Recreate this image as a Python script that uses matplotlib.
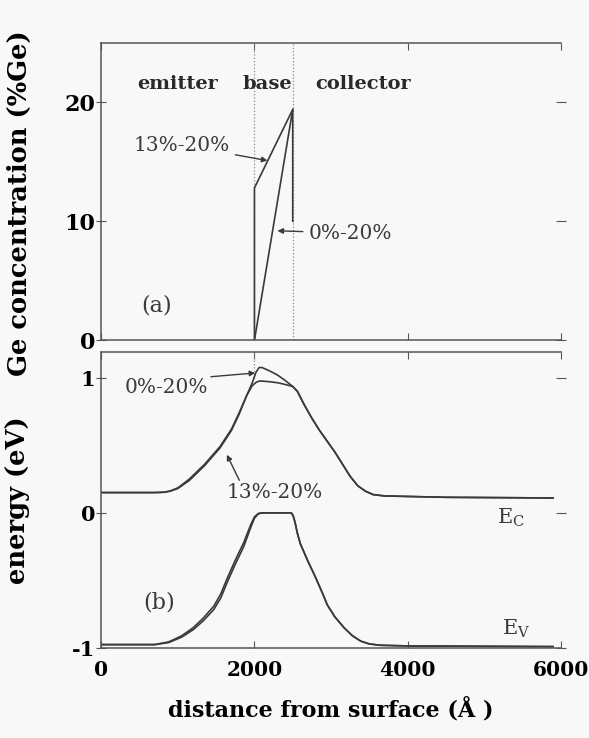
import matplotlib
matplotlib.use("Agg")
import matplotlib.pyplot as plt

plt.rcParams['font.family'] = ['DejaVu Serif']
plt.rcParams['mathtext.fontset'] = 'dejavuserif'

# (a) Ge profiles, distance in Angstrom, %Ge
base_edges = [2000, 2500]
ge_x_13 = [2000, 2000, 2500, 2500]
ge_y_13 = [0, 12.8, 19.4, 10]
ge_x_0 = [2000, 2500]
ge_y_0 = [0, 19.4]

# (b) band edges, eV
ec_x = [0, 700, 820, 900, 1000, 1150, 1350, 1550, 1700, 1800, 1900, 1970, 2020, 2060, 2100, 2200,
        2300, 2400, 2500, 2560, 2650, 2750, 2850, 2950, 3050, 3150, 3250, 3350, 3450, 3550, 3700, 4500, 5900]
ec_13 = [0.15, 0.15, 0.153, 0.162, 0.185, 0.25, 0.36, 0.49, 0.62, 0.74, 0.87, 0.94, 0.965, 0.975, 0.975, 0.97,
         0.963, 0.95, 0.935, 0.90, 0.80, 0.70, 0.61, 0.53, 0.45, 0.36, 0.27, 0.20, 0.16, 0.135, 0.125, 0.115, 0.11]
ec_0 = [0.15, 0.15, 0.152, 0.16, 0.18, 0.24, 0.35, 0.48, 0.61, 0.73, 0.87, 0.96, 1.04, 1.075, 1.075, 1.05,
        1.02, 0.98, 0.935, 0.90, 0.80, 0.70, 0.61, 0.53, 0.45, 0.36, 0.27, 0.20, 0.16, 0.135, 0.125, 0.115, 0.11]

ev_x = [0, 700, 880, 1050, 1200, 1330, 1470, 1560, 1640, 1750, 1860, 1950, 2000, 2050, 2100, 2480,
        2505, 2530, 2560, 2600, 2700, 2800, 2900, 2950, 3050, 3170, 3280, 3390, 3500, 3640, 4000, 5900]
ev_13 = [-0.975, -0.975, -0.955, -0.91, -0.85, -0.78, -0.69, -0.60, -0.49, -0.35, -0.22, -0.09, -0.03, -0.005, 0.0, 0.0,
         -0.02, -0.07, -0.15, -0.23, -0.36, -0.48, -0.61, -0.68, -0.77, -0.85, -0.91, -0.95, -0.97, -0.98, -0.985, -0.99]
ev_0 = [-0.975, -0.975, -0.96, -0.92, -0.865, -0.80, -0.715, -0.63, -0.52, -0.38, -0.25, -0.11, -0.04, -0.008, 0.0, 0.0,
        -0.02, -0.07, -0.15, -0.23, -0.36, -0.48, -0.61, -0.68, -0.77, -0.85, -0.91, -0.95, -0.97, -0.98, -0.985, -0.99]

ink = '#3a3a3a'
bg = '#f8f8f8'

fig = plt.figure(figsize=(5.89, 7.38), dpi=100, facecolor=bg)
ax1 = fig.add_axes([0.172, 0.539, 0.78, 0.403], facecolor=bg)
ax2 = fig.add_axes([0.172, 0.122, 0.78, 0.401], facecolor=bg)

for ax in (ax1, ax2):
    ax.set_xlim(0, 6000)
    ax.spines['right'].set_visible(False)
    for s in ('left', 'top', 'bottom'):
        ax.spines[s].set_color('#555555')
        ax.spines[s].set_linewidth(1.1)
    ax.set_xticks([0, 2000, 4000, 6000])
    ax.tick_params(axis='x', direction='in', length=5, color='#555555', top=True)
    ax.tick_params(axis='y', direction='inout', length=7, color='#555555', right=True, pad=1)

# (a)
ax1.set_ylim(0, 25)
ax1.set_yticks([0, 10, 20])
ax1.tick_params(axis='x', labelbottom=False)
ax1.tick_params(axis='y', labelsize=16)
for lbl in ax1.get_yticklabels():
    lbl.set_fontweight('bold')
ax1.vlines(base_edges, 0, 25, colors='#888888', linestyles=':', linewidth=0.9)
ax1.plot(ge_x_13, ge_y_13, color=ink, lw=1.2)
ax1.plot(ge_x_0, ge_y_0, color=ink, lw=1.2)
ax1.set_ylabel('Ge concentration (%Ge)', fontsize=18.5, fontweight='bold')
ax1.yaxis.set_label_coords(-0.15, 0.46)

ax1.text(1000, 21.5, 'emitter', fontsize=14, fontweight='bold', ha='center', va='center', color='#2a2a2a')
ax1.text(2170, 21.5, 'base', fontsize=14, fontweight='bold', ha='center', va='center', color='#2a2a2a')
ax1.text(3420, 21.5, 'collector', fontsize=14, fontweight='bold', ha='center', va='center', color='#2a2a2a')
ax1.annotate('13%-20%', xy=(2170, 15.1), xytext=(1050, 16.4), fontsize=14.5, color=ink,
             ha='center', va='center',
             arrowprops=dict(arrowstyle='-|>', color=ink, lw=1.0, mutation_scale=8, shrinkA=2, shrinkB=0))
ax1.annotate('0%-20%', xy=(2300, 9.2), xytext=(3250, 9.0), fontsize=14.5, color=ink,
             ha='center', va='center',
             arrowprops=dict(arrowstyle='-|>', color=ink, lw=1.0, mutation_scale=8, shrinkA=2, shrinkB=0))
ax1.text(720, 2.9, '(a)', fontsize=16, ha='center', va='center', color=ink)

# (b)
ax2.set_ylim(-1, 1.19)
ax2.set_yticks([-1, 0, 1])
ax2.set_yticklabels(['-1', '0', '1'])
ax2.tick_params(axis='y', labelsize=15)
ax2.tick_params(axis='x', labelsize=14.5, pad=9)
for lbl in ax2.get_yticklabels() + ax2.get_xticklabels():
    lbl.set_fontweight('bold')
ax2.vlines(base_edges[0], 1.0, 1.19, colors='#888888', linestyles=':', linewidth=0.9)
ax2.plot(ec_x, ec_13, color=ink, lw=1.2)
ax2.plot(ec_x, ec_0, color=ink, lw=1.2)
ax2.plot(ev_x, ev_13, color=ink, lw=1.2)
ax2.plot(ev_x, ev_0, color=ink, lw=1.2)
ax2.set_ylabel('energy (eV)', fontsize=18.5, fontweight='bold')
ax2.yaxis.set_label_coords(-0.155, 0.5)
ax2.set_xlabel('distance from surface (Å )', fontsize=16, fontweight='bold', labelpad=12)

ax2.annotate('0%-20%', xy=(2010, 1.035), xytext=(850, 0.93), fontsize=14.5, color=ink,
             ha='center', va='center',
             arrowprops=dict(arrowstyle='-|>', color=ink, lw=1.0, mutation_scale=8, shrinkA=0, shrinkB=0,
                             relpos=(0.9, 1.0)))
ax2.annotate('13%-20%', xy=(1640, 0.43), xytext=(2260, 0.15), fontsize=14.5, color=ink,
             ha='center', va='center',
             arrowprops=dict(arrowstyle='-|>', color=ink, lw=1.0, mutation_scale=8, shrinkA=0, shrinkB=0,
                             relpos=(0.15, 1.0)))
ax2.text(750, -0.66, '(b)', fontsize=16, ha='center', va='center', color=ink)
ax2.text(5350, -0.04, r'E$_\mathrm{C}$', fontsize=15, ha='center', va='center', color=ink)
ax2.text(5420, -0.86, r'E$_\mathrm{V}$', fontsize=15, ha='center', va='center', color=ink)

fig.savefig('out.png', dpi=100, facecolor=bg)
